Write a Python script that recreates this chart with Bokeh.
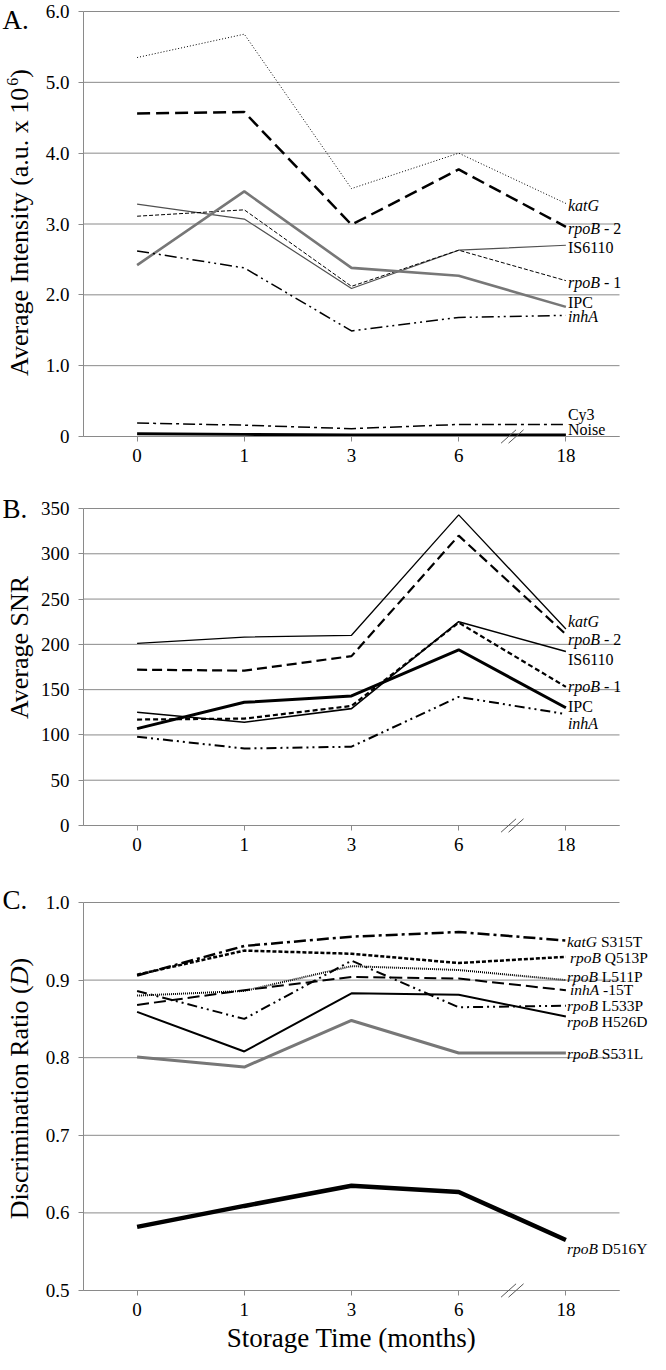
from bokeh.plotting import figure
from bokeh.models import Range1d, FixedTicker, Label, Arrow, PrintfTickFormatter
from bokeh.layouts import column
from bokeh.embed import file_html
from bokeh.resources import INLINE
import math

# ---------------- data ----------------
months = ["0", "1", "3", "6", "18"]

# Panel A: Average Intensity (a.u. x 10^6)
a_katG = [5.35, 5.68, 3.50, 4.00, 3.29]
a_rpoB2 = [4.56, 4.58, 2.99, 3.77, 2.96]
a_IS6110 = [3.28, 3.07, 2.09, 2.63, 2.70]
a_rpoB1 = [3.11, 3.20, 2.12, 2.63, 2.20]
a_IPC = [2.42, 3.46, 2.38, 2.27, 1.83]
a_inhA = [2.62, 2.38, 1.49, 1.68, 1.71]
a_Cy3 = [0.19, 0.16, 0.11, 0.17, 0.17]
a_Noise = [0.04, 0.03, 0.02, 0.02, 0.02]

# Panel B: Average SNR
b_katG = [201, 208, 210, 343, 217]
b_rpoB2 = [172, 171, 187, 320, 211]
b_IS6110 = [125, 114, 129, 225, 192]
b_rpoB1 = [117, 118, 132, 224, 153]
b_IPC = [107, 136, 143, 194, 130]
b_inhA = [98, 85, 87, 142, 123]

# Panel C: Discrimination Ratio (D)
c_katG_S315T = [0.906, 0.944, 0.956, 0.962, 0.951]
c_rpoB_Q513P = [0.907, 0.938, 0.934, 0.922, 0.930]
c_rpoB_L511P = [0.880, 0.886, 0.918, 0.913, 0.900]
c_inhA_15T = [0.868, 0.887, 0.904, 0.902, 0.887]
c_rpoB_L533P = [0.886, 0.850, 0.925, 0.865, 0.867]
c_rpoB_H526D = [0.859, 0.808, 0.883, 0.881, 0.853]
c_rpoB_S531L = [0.801, 0.788, 0.848, 0.806, 0.806]
c_rpoB_D516Y = [0.582, 0.609, 0.635, 0.627, 0.565]

a_ticks = [0, 1, 2, 3, 4, 5, 6]
a_tick_labels = ["0", "1.0", "2.0", "3.0", "4.0", "5.0", "6.0"]
b_ticks = [0, 50, 100, 150, 200, 250, 300, 350]
c_ticks = [0.5, 0.6, 0.7, 0.8, 0.9, 1.0]

# ---------------- styling / layout ----------------
FONT = "Liberation Serif"
GRID = "#8a8a8a"
W = 650
FL = 83          # plot-area left edge (px)
FW = 536         # plot-area width (px)
X0, X1 = -0.5, 4.5
XPPU = FW / (X1 - X0)
xs = list(range(len(months)))

REG = {" ": 250, "(": 333, ")": 333, ".": 250, "-": 333, "A": 722, "B": 667, "C": 667,
       "D": 722, "G": 722, "H": 722, "I": 333, "L": 611, "N": 722, "P": 556, "Q": 722,
       "R": 667, "S": 556, "T": 611, "Y": 722, "a": 444, "c": 444, "e": 444, "g": 500,
       "h": 500, "i": 278, "m": 778, "n": 500, "o": 500, "r": 333, "s": 389, "t": 278,
       "u": 500, "v": 500, "x": 500, "y": 500}
ITA = {"r": 389, "p": 500, "o": 500, "B": 611, "k": 444, "a": 500, "t": 278, "G": 722,
       "i": 278, "n": 500, "h": 500, "A": 611, "D": 722}


def tw(s, size, italic=False):
    tab = ITA if italic else REG
    return sum(tab.get(ch, 500) for ch in s) / 1000.0 * size


def make_fig(h, top, fh, y0, y1, ticks, overrides=None, fmt=None):
    ppu = fh / (y1 - y0)
    bottom = h - top - fh
    p = figure(width=W, height=h, output_backend="svg", toolbar_location=None,
               x_range=Range1d(X0 - FL / XPPU, X1 + (W - FL - FW) / XPPU),
               y_range=Range1d(y0 - bottom / ppu, y1 + top / ppu),
               min_border=0, min_border_left=0, min_border_right=0,
               min_border_top=0, min_border_bottom=0)
    p.outline_line_color = None
    p.background_fill_color = "white"
    p.border_fill_color = "white"
    p.xgrid.visible = False
    p.ygrid.visible = False
    # horizontal gridlines across the plot area only
    p.segment(x0=[X0] * len(ticks), x1=[X1] * len(ticks), y0=ticks, y1=ticks,
              line_color=GRID, line_width=1)
    p.axis.axis_line_color = GRID
    p.axis.axis_line_width = 1
    p.axis.major_tick_line_color = GRID
    p.axis.major_tick_out = 5
    p.axis.major_tick_in = 0
    p.axis.minor_tick_line_color = None
    p.axis.major_label_text_font = FONT
    p.axis.major_label_text_font_size = "19px"
    p.axis.major_label_text_color = "black"
    p.xaxis.fixed_location = y0
    p.xaxis.bounds = (X0, X1)
    p.xaxis.ticker = FixedTicker(ticks=xs)
    p.xaxis.major_label_overrides = {i: m for i, m in enumerate(months)}
    p.xaxis.major_label_standoff = 7
    p.yaxis.fixed_location = X0
    p.yaxis.bounds = (y0, y1)
    p.yaxis.ticker = FixedTicker(ticks=ticks)
    p.yaxis.major_label_standoff = 9
    if overrides:
        p.yaxis.major_label_overrides = overrides
    if fmt:
        p.yaxis.formatter = PrintfTickFormatter(format=fmt)
    geo = dict(top=top, fh=fh, y0=y0, y1=y1)
    return p, geo


def to_data(geo, px, py):
    x = X0 + (px - FL) / XPPU
    y = geo["y1"] - (py - geo["top"]) / geo["fh"] * (geo["y1"] - geo["y0"])
    return x, y


def letter(p, geo, txt, py):
    x, y = to_data(geo, 2, py)
    p.add_layout(Label(x=x, y=y, text=txt, text_font=FONT, text_font_size="27px",
                       text_align="left", text_baseline="middle", text_color="black"))


def vtitle(p, geo, pieces, cy, cx=19):
    total = sum(tw(t, s, it) for t, it, s, sh in pieces)
    ypos = cy + total / 2.0
    for t, it, s, sh in pieces:
        x, y = to_data(geo, cx + sh, ypos)
        p.add_layout(Label(x=x, y=y, text=t, angle=math.pi / 2, text_font=FONT,
                           text_font_size=f"{s}px",
                           text_font_style="italic" if it else "normal",
                           text_align="left", text_baseline="middle", text_color="black"))
        ypos -= tw(t, s, it)


def series_label(p, parts, y, dx=2, size=16):
    off = dx
    for t, it in parts:
        lead = len(t) - len(t.lstrip(" "))
        off += tw(" " * lead, size, it)
        t2 = t.strip(" ")
        p.add_layout(Label(x=4, y=y, x_offset=off, text=t2, text_font=FONT,
                           text_font_size=f"{size}px",
                           text_font_style="italic" if it else "normal",
                           text_align="left", text_baseline="middle", text_color="black"))
        off += tw(t2, size, it)


def axis_break(p, geo):
    ppu = geo["fh"] / (geo["y1"] - geo["y0"])
    hx = 7.5 / XPPU
    hy = 6.7 / ppu
    for cx in (3.465, 3.535):
        p.add_layout(Arrow(end=None, x_start=cx - hx, y_start=geo["y0"] - hy,
                           x_end=cx + hx, y_end=geo["y0"] + hy,
                           line_color="#555555", line_width=1))


# ---------------- Panel A ----------------
pa, ga = make_fig(472, 11, 425, 0, 6, a_ticks,
                  overrides={t: l for t, l in zip(a_ticks, a_tick_labels)})
pa.line(xs, a_katG, line_color="black", line_width=1, line_dash="1 2")
pa.line(xs, a_rpoB2, line_color="black", line_width=2.5, line_dash="13 6")
pa.line(xs, a_IS6110, line_color="#505050", line_width=1.2)
pa.line(xs, a_rpoB1, line_color="black", line_width=1, line_dash="4 2")
pa.line(xs, a_IPC, line_color="#777777", line_width=2.6)
pa.line(xs, a_inhA, line_color="black", line_width=1.5, line_dash="12 4 2 4 2 4")
pa.line(xs, a_Cy3, line_color="black", line_width=1.5, line_dash="12 4 3 4")
pa.line(xs, a_Noise, line_color="black", line_width=3)
a_label_pos = [3.26, 2.94, 2.67, 2.18, 1.89, 1.69, 0.31, 0.10]
a_label_parts = [[("katG", True)], [("rpoB", True), (" - 2", False)], [("IS6110", False)],
                 [("rpoB", True), (" - 1", False)], [("IPC", False)], [("inhA", True)],
                 [("Cy3", False)], [("Noise", False)]]
for parts, y in zip(a_label_parts, a_label_pos):
    series_label(pa, parts, y)
letter(pa, ga, "A.", 19)
vtitle(pa, ga, [("Average Intensity (a.u. x 10", False, 26, 0), ("6", False, 16, -7),
                (")", False, 26, 0)], 222)
axis_break(pa, ga)

# ---------------- Panel B ----------------
pb, gb = make_fig(390, 36, 317, 0, 350, b_ticks)
pb.line(xs, b_katG, line_color="black", line_width=1.3)
pb.line(xs, b_rpoB2, line_color="black", line_width=2.2, line_dash="10 5")
pb.line(xs, b_IS6110, line_color="black", line_width=1.6)
pb.line(xs, b_rpoB1, line_color="black", line_width=2.2, line_dash="5 3")
pb.line(xs, b_IPC, line_color="black", line_width=3)
pb.line(xs, b_inhA, line_color="black", line_width=2, line_dash="10 4 2 4 2 4")
b_label_pos = [225, 205, 183, 153, 131, 113]
b_label_parts = [[("katG", True)], [("rpoB", True), (" - 2", False)], [("IS6110", False)],
                 [("rpoB", True), (" - 1", False)], [("IPC", False)], [("inhA", True)]]
for parts, y in zip(b_label_parts, b_label_pos):
    series_label(pb, parts, y)
letter(pb, gb, "B.", 36)
vtitle(pb, gb, [("Average SNR", False, 26, 0)], 174)
axis_break(pb, gb)

# ---------------- Panel C ----------------
pc, gc = make_fig(492, 40, 388, 0.5, 1.0, c_ticks, fmt="%.1f")
pc.line(xs, c_katG_S315T, line_color="black", line_width=2.5, line_dash="12 4 3 4")
pc.line(xs, c_rpoB_Q513P, line_color="black", line_width=2.5, line_dash="4 2")
pc.line(xs, c_rpoB_L511P, line_color="black", line_width=2, line_dash="1 1")
pc.line(xs, c_inhA_15T, line_color="black", line_width=2, line_dash="12 5")
pc.line(xs, c_rpoB_L533P, line_color="black", line_width=2, line_dash="10 4 2 4 2 4")
pc.line(xs, c_rpoB_H526D, line_color="black", line_width=2)
pc.line(xs, c_rpoB_S531L, line_color="#777777", line_width=3)
pc.line(xs, c_rpoB_D516Y, line_color="black", line_width=4.5)
c_label_pos = [0.950, 0.929, 0.905, 0.888, 0.867, 0.847, 0.805, 0.554]
c_label_dx = [1, 4, 1, 4, 1, 1, 1, 1]
c_label_parts = [[("katG", True), (" S315T", False)], [("rpoB", True), (" Q513P", False)],
                 [("rpoB", True), (" L511P", False)], [("inhA", True), (" -15T", False)],
                 [("rpoB", True), (" L533P", False)], [("rpoB", True), (" H526D", False)],
                 [("rpoB", True), (" S531L", False)], [("rpoB", True), (" D516Y", False)]]
for parts, y, dx in zip(c_label_parts, c_label_pos, c_label_dx):
    series_label(pc, parts, y, dx=dx, size=15.5)
letter(pc, gc, "C.", 37)
vtitle(pc, gc, [("Discrimination Ratio (", False, 26, 0), ("D", True, 26, 0),
                (")", False, 26, 0)], 226)
axis_break(pc, gc)
tx, ty = to_data(gc, 0, 40 + 388 + 47)
pc.add_layout(Label(x=2, y=ty, text="Storage Time (months)", text_font=FONT,
                    text_font_size="27px", text_align="center", text_baseline="middle",
                    text_color="black"))

layout = column(pa, pb, pc, spacing=0)
open("out.html", "w").write(file_html(layout, INLINE))
